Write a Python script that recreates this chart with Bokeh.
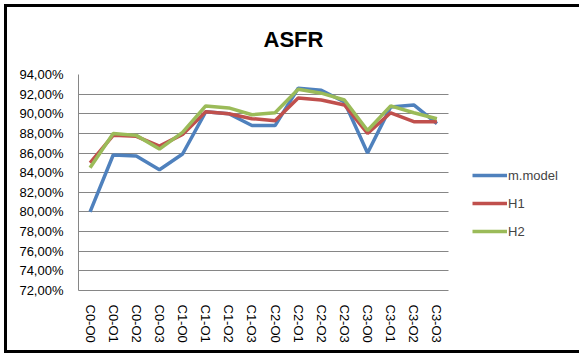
from bokeh.plotting import figure
from bokeh.models import Range1d, FixedTicker, Legend, LegendItem, InlineStyleSheet
from bokeh.embed import file_html
from bokeh.resources import INLINE

categories = ["C0-O0", "C0-O1", "C0-O2", "C0-O3", "C1-O0", "C1-O1", "C1-O2", "C1-O3",
              "C2-O0", "C2-O1", "C2-O2", "C2-O3", "C3-O0", "C3-O1", "C3-O2", "C3-O3"]
m_model = [80.0, 85.8, 85.7, 84.3, 85.9, 90.2, 90.0, 88.8, 88.8, 92.6, 92.4, 91.2, 86.0, 90.7, 90.9, 89.0]
h1 = [85.0, 87.8, 87.7, 86.7, 87.9, 90.2, 90.0, 89.5, 89.3, 91.6, 91.4, 90.9, 88.0, 90.1, 89.2, 89.2]
h2 = [84.5, 88.0, 87.8, 86.4, 88.1, 90.8, 90.6, 89.9, 90.1, 92.5, 92.1, 91.4, 88.3, 90.8, 90.1, 89.5]
y_ticks = [72, 74, 76, 78, 80, 82, 84, 86, 88, 90, 92, 94]
series_names = ["m.model", "H1", "H2"]
series_colors = ["#4F81BD", "#C0504D", "#9BBB59"]

W, H = 579, 353
FL, FT, FB = 78, 74, 290
CAT_W = (448 - FL) / len(categories)   # pixel width of one category slot
FR = 569                               # frame extends under the legend area
n = len(categories)
x_pos = [i + 0.5 for i in range(n)]
x_end = (FR - FL) / CAT_W

p = figure(width=W, height=H, output_backend="svg",
           toolbar_location=None, title="ASFR",
           min_border_left=FL, min_border_right=W - FR, min_border_top=FT,
           min_border_bottom=H - FB)
p.x_range = Range1d(0, x_end)
p.y_range = Range1d(72, 94)
p.title.align = "left"
p.title.offset = 185
p.title.standoff = 46
p.title.text_font = "Liberation Sans"
p.title.text_font_size = "22px"
p.title.text_font_style = "bold"
p.title.text_color = "#000000"

p.outline_line_color = None
p.background_fill_color = "white"
p.border_fill_color = "white"

p.yaxis.ticker = FixedTicker(ticks=y_ticks)
p.yaxis.major_label_overrides = {t: f"{t},00%" for t in y_ticks}
p.xaxis.ticker = FixedTicker(ticks=x_pos)
p.xaxis.major_label_overrides = {x: c for x, c in zip(x_pos, categories)}
p.xaxis.bounds = (0, n)
for ax in (p.xaxis[0], p.yaxis[0]):
    ax.axis_line_color = "#868686"
    ax.major_tick_line_color = None
    ax.minor_tick_line_color = None
    ax.major_label_text_font = "Liberation Sans"
    ax.major_label_text_font_size = "13px"
    ax.major_label_text_color = "#000000"
p.yaxis.major_label_standoff = 9
p.xaxis.major_label_orientation = "vertical"
p.xaxis.major_label_standoff = 8

p.xgrid.grid_line_color = None
p.ygrid.grid_line_color = "#868686"
p.ygrid.grid_line_width = 1
p.ygrid.cross_bounds = (0, n)

renderers = []
for name, vals, col in zip(series_names, [m_model, h1, h2], series_colors):
    r = p.line(x_pos, vals, line_color=col, line_width=3.5)
    renderers.append(r)

legend = Legend(items=[LegendItem(label=nm, renderers=[r]) for nm, r in zip(series_names, renderers)],
                location=(472 - FL, 49), orientation="vertical",
                glyph_width=35, glyph_height=20, spacing=8, padding=0, margin=0,
                label_standoff=1, label_text_font="Liberation Sans",
                label_text_font_size="13px", border_line_color=None,
                background_fill_alpha=0)
p.add_layout(legend, "center")

p.stylesheets = [InlineStyleSheet(css=(
    ":host { position: relative; }"
    ":host::after { content: ''; position: absolute; left: 4px; top: 4px;"
    " width: 575px; height: 349px; box-sizing: border-box;"
    " border: 3px solid #000; border-right: none; pointer-events: none; z-index: 10; }"
))]

open("out.html", "w").write(file_html(p, INLINE))
